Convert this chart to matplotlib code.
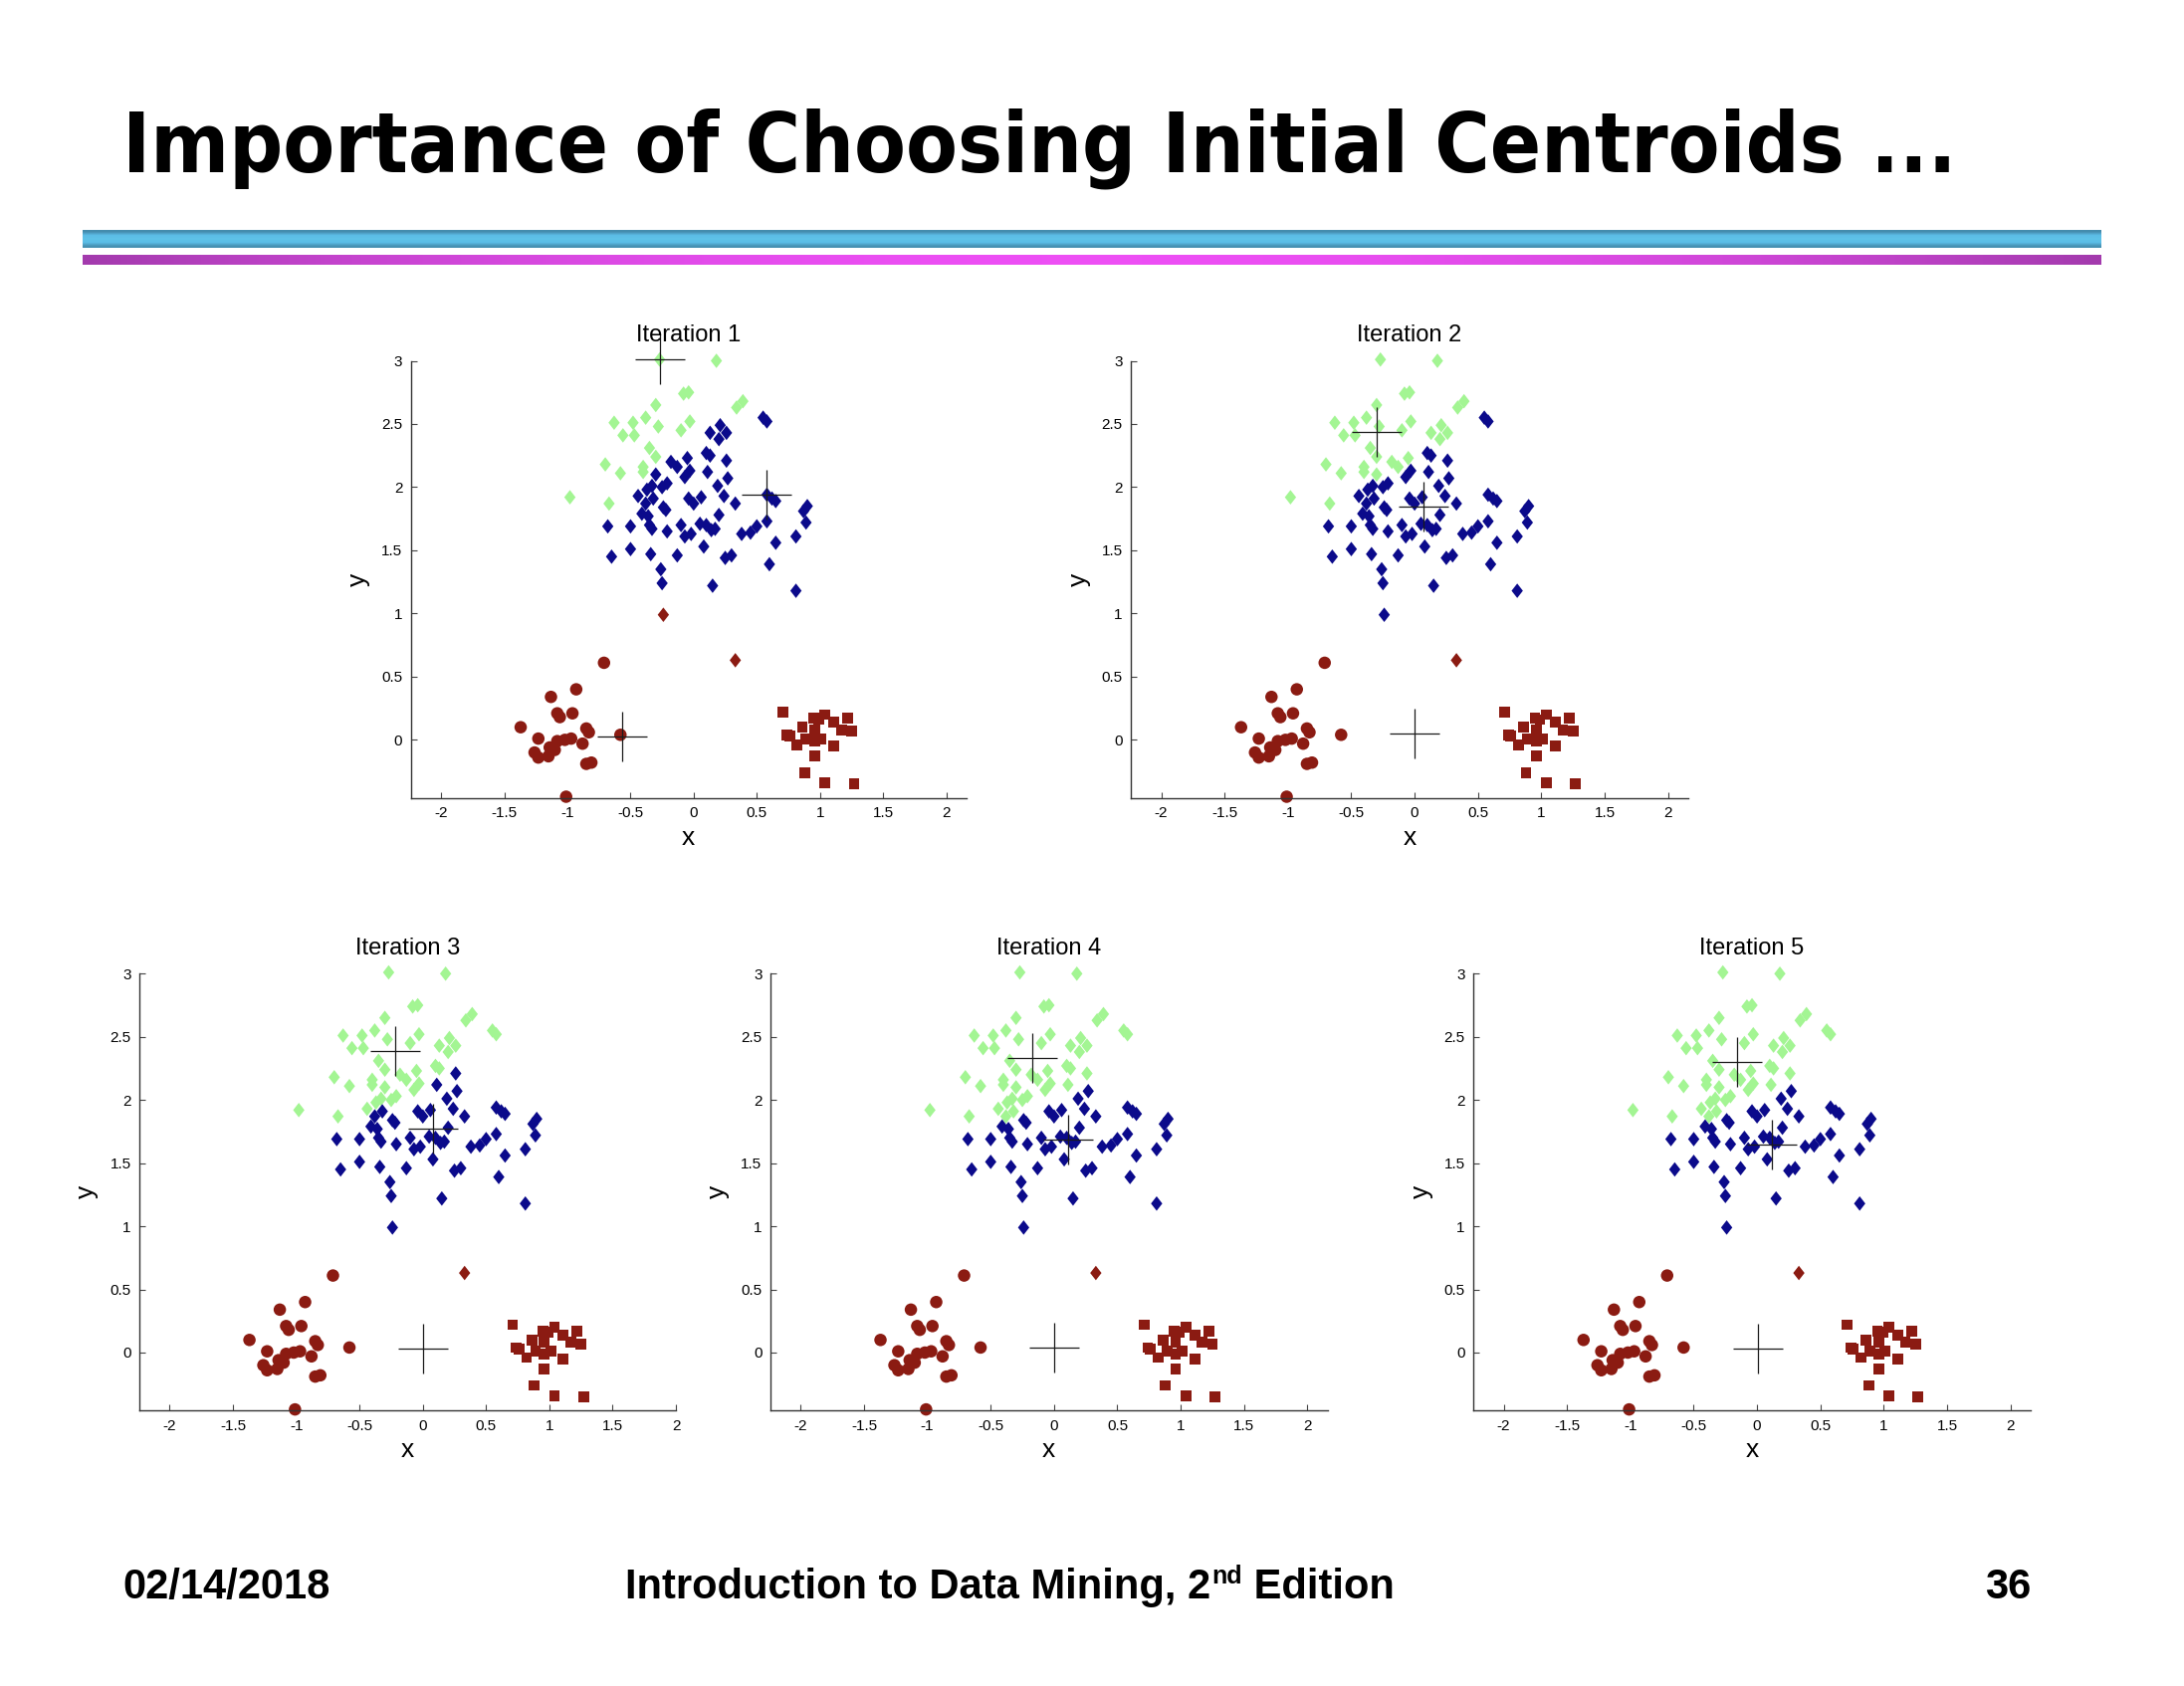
import numpy as np
import matplotlib.pyplot as plt
from matplotlib.path import Path
from matplotlib.ticker import FormatStrFormatter

plt.rcParams['axes.unicode_minus'] = False
plt.rcParams['font.family'] = ['Liberation Sans', 'DejaVu Sans']

# diamonds (upper group + two stray ones)
dia_x = [-0.27, 0.18, -0.08, -0.04, -0.30, 0.34, 0.39, 0.55, 0.58, -0.63,
         -0.48, -0.38, -0.28, -0.03, -0.10, -0.56, -0.47, 0.13, 0.21, 0.26,
         0.20, -0.35, -0.30, -0.18, -0.13, -0.05, 0.10, 0.13, 0.26, -0.70,
         -0.58, -0.40, -0.40, -0.30, -0.03, -0.07, 0.11, -0.21, -0.25, -0.37,
         -0.33, -0.44, -0.32, -0.38, -0.98, -0.67,
         0.27, 0.19, -0.04, 0.00, 0.06, 0.24, 0.33, 0.58, 0.62, 0.65,
         0.87, 0.90, -0.41, -0.36, -0.24, -0.22, 0.20, -0.68, -0.50, -0.35,
         -0.33, -0.21, -0.10, -0.07, -0.02, 0.05, 0.10, 0.14, 0.17, 0.08,
         0.38, 0.45, 0.50, 0.58, 0.89, 0.81, 0.65, -0.65, -0.50, -0.34,
         -0.13, 0.25, 0.30, 0.60, -0.26, -0.25, 0.15, 0.81, -0.24, 0.33]
dia_y = [3.01, 3.00, 2.74, 2.75, 2.65, 2.63, 2.68, 2.55, 2.52, 2.51,
         2.51, 2.55, 2.48, 2.52, 2.45, 2.41, 2.41, 2.43, 2.49, 2.43,
         2.38, 2.31, 2.24, 2.20, 2.16, 2.23, 2.27, 2.25, 2.21, 2.18,
         2.11, 2.16, 2.12, 2.10, 2.13, 2.08, 2.12, 2.03, 2.00, 1.98,
         2.01, 1.93, 1.91, 1.87, 1.92, 1.87,
         2.07, 2.01, 1.91, 1.87, 1.92, 1.93, 1.87, 1.94, 1.91, 1.89,
         1.81, 1.85, 1.79, 1.77, 1.84, 1.82, 1.78, 1.69, 1.69, 1.70,
         1.67, 1.65, 1.70, 1.61, 1.63, 1.71, 1.70, 1.66, 1.67, 1.53,
         1.63, 1.64, 1.69, 1.73, 1.72, 1.61, 1.56, 1.45, 1.51, 1.47,
         1.46, 1.44, 1.46, 1.39, 1.35, 1.24, 1.22, 1.18, 0.99, 0.63]

# circles (lower left group)
circ_x = [-0.71, -0.93, -1.13, -1.08, -1.06, -0.96, -1.37, -1.23, -0.85, -0.83,
          -1.08, -1.02, -0.97, -0.88, -1.14, -1.10, -1.26, -1.23, -1.15, -0.85,
          -0.81, -0.58, -1.01]
circ_y = [0.61, 0.40, 0.34, 0.21, 0.18, 0.21, 0.10, 0.01, 0.09, 0.06,
          -0.01, 0.00, 0.01, -0.03, -0.06, -0.08, -0.10, -0.14, -0.13, -0.19,
          -0.18, 0.04, -0.45]

# squares (lower right group)
sq_x = [0.71, 0.74, 0.76, 0.86, 0.82, 0.95, 0.99, 1.04, 0.96, 0.89,
        0.96, 1.01, 1.11, 1.17, 1.22, 1.25, 1.11, 0.96, 0.88, 1.04, 1.27]
sq_y = [0.22, 0.04, 0.03, 0.10, -0.04, 0.17, 0.16, 0.20, 0.08, 0.01,
        -0.01, 0.01, 0.14, 0.08, 0.17, 0.07, -0.05, -0.13, -0.26, -0.34, -0.35]

# centroids per iteration (green, blue, red)
cent_x = [[-0.27, 0.58, -0.57],
          [-0.30, 0.07, 0.00],
          [-0.22, 0.08, 0.00],
          [-0.17, 0.11, 0.00],
          [-0.16, 0.12, 0.01]]
cent_y = [[3.01, 1.94, 0.03],
          [2.44, 1.85, 0.05],
          [2.39, 1.77, 0.03],
          [2.33, 1.69, 0.04],
          [2.30, 1.65, 0.03]]

titles = ['Iteration 1', 'Iteration 2', 'Iteration 3', 'Iteration 4', 'Iteration 5']
clust_colors = ['#a3f593', '#0b0a8b', '#8b1b12']

# axes boxes in figure fractions, plus right x limit
boxes = [([0.1881, 0.5267, 0.2544, 0.2593], 2.16),
         ([0.5178, 0.5267, 0.2552, 0.2593], 2.16),
         ([0.0638, 0.1633, 0.2457, 0.2592], 2.0),
         ([0.3527, 0.1633, 0.2552, 0.2592], 2.16),
         ([0.6746, 0.1633, 0.2552, 0.2592], 2.16)]

diamond = Path([(0, 1), (0.78, 0), (0, -1), (-0.78, 0), (0, 1)],
               [Path.MOVETO, Path.LINETO, Path.LINETO, Path.LINETO, Path.CLOSEPOLY])


def assign(px, py, cx, cy):
    px = np.asarray(px)[:, None]
    py = np.asarray(py)[:, None]
    d = (px - np.asarray(cx)[None, :]) ** 2 + (py - np.asarray(cy)[None, :]) ** 2
    return [clust_colors[i] for i in d.argmin(axis=1)]


fig = plt.figure(figsize=(21.94, 16.94), dpi=100)

for k in range(5):
    box, xr = boxes[k]
    ax = fig.add_axes(box)
    cx, cy = cent_x[k], cent_y[k]
    ax.scatter(circ_x, circ_y, s=9 ** 2, marker='o', c=assign(circ_x, circ_y, cx, cy),
               linewidths=0, clip_on=False, zorder=2)
    ax.scatter(sq_x, sq_y, s=7.8 ** 2, marker='s', c=assign(sq_x, sq_y, cx, cy),
               linewidths=0, clip_on=False, zorder=2)
    ax.scatter(dia_x, dia_y, s=10.5 ** 2, marker=diamond, c=assign(dia_x, dia_y, cx, cy),
               linewidths=0, clip_on=False, zorder=2)
    ax.plot(cx, cy, linestyle='none', marker='+', ms=36, mew=0.9, color='#1a1a1a',
            clip_on=False, zorder=3)

    ax.set_xlim(-2.24, xr)
    ax.set_ylim(-0.46, 3.0)
    ax.set_xticks(np.arange(-2, 2.01, 0.5))
    ax.set_yticks(np.arange(0, 3.01, 0.5))
    ax.xaxis.set_major_formatter(FormatStrFormatter('%g'))
    ax.yaxis.set_major_formatter(FormatStrFormatter('%g'))
    ax.tick_params(direction='in', length=4, width=0.8, labelsize=11, pad=6,
                   color='#444444')
    for side in ['top', 'right']:
        ax.spines[side].set_visible(False)
    for side in ['left', 'bottom']:
        ax.spines[side].set_color('#333333')
        ax.spines[side].set_linewidth(1.0)
    ax.set_xlabel('x', fontsize=19, labelpad=4)
    ax.set_ylabel('y', fontsize=19, labelpad=8)
    ax.set_title(titles[k], fontsize=17, pad=14)

# header bars
cyan = np.array([[0.27, 0.55, 0.68], [0.36, 0.74, 0.90], [0.37, 0.76, 0.91],
                 [0.36, 0.74, 0.90], [0.28, 0.57, 0.70]])
bar1 = fig.add_axes([82.5 / 2194, 1 - 249 / 1694, 2027.5 / 2194, 18 / 1694])
bar1.imshow(cyan[:, None, :], aspect='auto', interpolation='bilinear')
bar1.axis('off')

t = np.abs(np.linspace(-1, 1, 200))
edge = np.array([0.64, 0.23, 0.68])
mid = np.array([0.93, 0.31, 0.96])
mag = mid[None, :] * (1 - t[:, None] ** 2) + edge[None, :] * t[:, None] ** 2
bar2 = fig.add_axes([82.5 / 2194, 1 - 266 / 1694, 2027.5 / 2194, 10 / 1694])
bar2.imshow(mag[None, :, :], aspect='auto', interpolation='bilinear')
bar2.axis('off')

# slide title
title = fig.text(123 / 2194, 1 - 172 / 1694, 'Importance of Choosing Initial Centroids ...',
                 family='DejaVu Sans', fontweight='bold', fontstretch='condensed',
                 fontsize=60, ha='left', va='baseline')
fig.canvas.draw()
r = fig.canvas.get_renderer()
w = title.get_window_extent(r).width
title.set_fontsize(60 * 1843 / w)

# footer
fy = 1 - 1606 / 1694
fs = 30
fig.text(123 / 2194, fy, '02/14/2018', fontsize=fs, fontweight='bold', va='baseline')
fig.text(2040 / 2194, fy, '36', fontsize=fs, fontweight='bold', va='baseline', ha='right')
p1 = fig.text(628 / 2194, fy, 'Introduction to Data Mining, 2', fontsize=fs,
              fontweight='bold', va='baseline')
fig.canvas.draw()
e1 = p1.get_window_extent(r)
p2 = fig.text(e1.x1 / 2194 + 1 / 2194, fy + 15 / 1694, 'nd', fontsize=18,
              fontweight='bold', va='baseline')
fig.canvas.draw()
e2 = p2.get_window_extent(r)
fig.text(e2.x1 / 2194, fy, ' Edition', fontsize=fs, fontweight='bold', va='baseline')

fig.savefig('out.png', dpi=100, facecolor='white')
